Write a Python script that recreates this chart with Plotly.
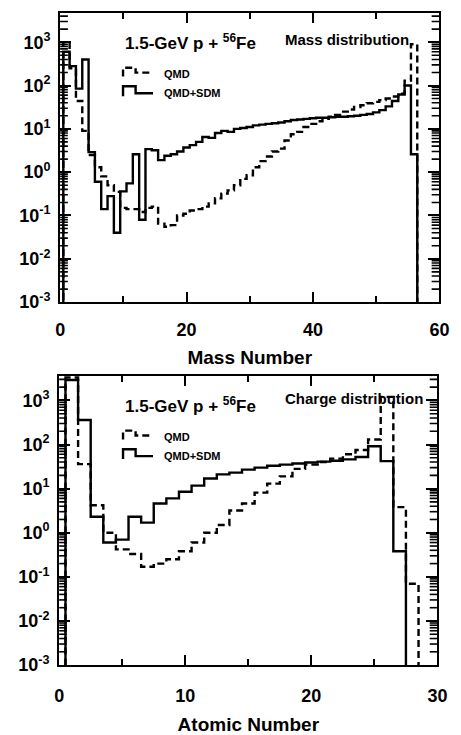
import plotly.graph_objects as go

# ---------------- data ----------------
mass_numbers = list(range(1, 57))
qmd_mass = [1000, 250, 44, 9, 2.5, 1.3, 0.8, 0.5, 0.35, 0.15,
            0.14, 0.14, 0.12, 0.15, 0.16, 0.065, 0.055, 0.06, 0.1, 0.11,
            0.13, 0.14, 0.16, 0.19, 0.25, 0.32, 0.38, 0.5, 0.7, 0.85,
            1.3, 1.8, 2.3, 3.0, 3.5, 5.4, 7.5, 8.5, 11, 13,
            15, 17, 19, 21, 25, 28, 32, 35, 39, 42,
            46, 50, 56, 65, 130, 900]
sdm_mass = [600, 280, 85, 400, 2.9, 0.6, 0.14, 0.28, 0.04, 0.36,
            0.55, 2.6, 0.08, 3.4, 3.2, 1.9, 2.4, 2.6, 3.0, 3.7,
            4.2, 5.0, 6.5, 6.2, 8.0, 9.0, 8.5, 10, 10.5, 11,
            12, 12.5, 13, 13.5, 14, 15, 16, 16.5, 17, 17.5,
            18, 18, 18.5, 19, 19, 19.5, 20, 21, 22, 24,
            27, 33, 44, 62, 100, 2.6]

atomic_numbers_qmd = list(range(1, 29))
qmd_charge = [3300, 36, 4.2, 1.0, 0.42, 0.33, 0.17, 0.2, 0.25, 0.38,
              0.6, 1.0, 1.5, 3.2, 4.6, 8.1, 13, 19, 28, 35,
              40, 48, 60, 75, 130, 1200, 3.8, 0.07]
atomic_numbers_sdm = list(range(1, 28))
sdm_charge = [2900, 360, 2.3, 0.6, 0.7, 2.3, 1.7, 4.6, 6, 8.5,
              11.7, 17, 21, 23, 27, 30, 33, 35, 37, 39,
              41, 43, 46, 52, 91, 42, 0.38]

decades = [-3, -2, -1, 0, 1, 2, 3]

# ---------------- helpers ----------------
W, H = 461, 735
FLOOR = 1e-6   # below the visible range: closes the histogram down to the axis


def step_xy(centers, values):
    xs, ys = [centers[0] - 0.5], [FLOOR]
    for c, v in zip(centers, values):
        xs.append(c - 0.5)
        ys.append(v)
    xs += [centers[-1] + 0.5, centers[-1] + 0.5]
    ys += [values[-1], FLOOR]
    return xs, ys


def px(x):
    return x / W


def py(y):
    return 1 - y / H


FONT = "Liberation Sans, Arial, Helvetica, sans-serif"
LINE_W = 2.4
DASH = "7px,4px"

fig = go.Figure()

panels = [
    dict(xa="x", ya="y", centers_q=mass_numbers, q=qmd_mass,
         centers_s=mass_numbers, s=sdm_mass, yrange=[-3, 3.68]),
    dict(xa="x2", ya="y2", centers_q=atomic_numbers_qmd, q=qmd_charge,
         centers_s=atomic_numbers_sdm, s=sdm_charge, yrange=[-3, 3.56]),
]

for p in panels:
    xs, ys = step_xy(p["centers_q"], p["q"])
    fig.add_trace(go.Scatter(x=xs, y=ys, mode="lines", line_shape="hv",
                             line=dict(color="black", width=LINE_W, dash=DASH),
                             xaxis=p["xa"], yaxis=p["ya"], showlegend=False,
                             hoverinfo="skip"))
    xs, ys = step_xy(p["centers_s"], p["s"])
    fig.add_trace(go.Scatter(x=xs, y=ys, mode="lines", line_shape="hv",
                             line=dict(color="black", width=LINE_W),
                             xaxis=p["xa"], yaxis=p["ya"], showlegend=False,
                             hoverinfo="skip"))

# ---------------- axes ----------------
ytick_vals = [10 ** d for d in decades]
ytick_text = ["10<sup>%d</sup>" % d for d in decades]
minor_vals = [m * 10 ** d for d in decades for m in range(2, 10)]

yaxis_common = dict(type="log", showgrid=False, zeroline=False,
                    showline=True, linecolor="black", linewidth=2, mirror="allticks",
                    ticks="inside", ticklen=11, tickwidth=2, tickcolor="black",
                    tickmode="array", tickvals=ytick_vals, ticktext=ytick_text,
                    tickfont=dict(family=FONT, size=18, color="black", weight="bold"),
                    ticklabelstandoff=4)

xaxis_common = dict(showgrid=False, zeroline=False, showline=True,
                    linecolor="black", linewidth=2, mirror="allticks",
                    ticks="inside", ticklen=10, tickwidth=2, tickcolor="black",
                    tickfont=dict(family=FONT, size=18, color="black", weight="bold"),
                    ticklabelstandoff=10,
                    minor=dict(ticks="inside", ticklen=6, tickwidth=1.5,
                               tickcolor="black", showgrid=False))

fig.update_layout(
    width=W, height=H, margin=dict(l=0, r=0, t=0, b=0),
    paper_bgcolor="white", plot_bgcolor="white",
    xaxis=dict(xaxis_common, domain=[px(57), px(449)], range=[0, 60],
               tick0=0, dtick=20, minor=dict(xaxis_common["minor"], dtick=10),
               anchor="y",
               title=dict(text="<b>Mass Number</b>", standoff=12,
                          font=dict(family=FONT, size=19, color="black"))),
    yaxis=dict(yaxis_common, domain=[py(308), py(13)], range=panels[0]["yrange"],
               anchor="x"),
    xaxis2=dict(xaxis_common, domain=[px(56), px(447)], range=[0, 30],
                tick0=0, dtick=10, minor=dict(xaxis_common["minor"], dtick=5),
                anchor="y2", ticklabelstandoff=13,
                title=dict(text="<b>Atomic Number</b>", standoff=16,
                           font=dict(family=FONT, size=19, color="black"))),
    yaxis2=dict(yaxis_common, domain=[py(678), py(383)], range=panels[1]["yrange"],
                anchor="x2"),
)

# log minor ticks (2..9 per decade) on both vertical edges of each panel
MINOR_LEN = 8 / 392
for p in panels:
    lo, hi = 10 ** p["yrange"][0], 10 ** p["yrange"][1]
    xdom = p["xa"] + " domain"
    for v in minor_vals:
        if not (lo < v < hi):
            continue
        for x0, x1 in [(0, MINOR_LEN), (1 - MINOR_LEN, 1)]:
            fig.add_shape(type="line", xref=xdom, yref=p["ya"],
                          x0=x0, x1=x1, y0=v, y1=v,
                          line=dict(color="black", width=1.6))


# ---------------- labels and legend keys ----------------
def label(x, y, text, size, anchor="left"):
    fig.add_annotation(x=px(x), y=py(y), xref="paper", yref="paper",
                       text=text, showarrow=False, xanchor=anchor, yanchor="middle",
                       font=dict(family=FONT, size=size, color="black"))


def key(x0, y_low, y_high, y_mid, dash):
    x1, x2 = x0 + 13, x0 + 31
    path = "M %f,%f L %f,%f L %f,%f L %f,%f L %f,%f" % (
        px(x0), py(y_low), px(x0), py(y_high), px(x1), py(y_high),
        px(x1), py(y_mid), px(x2), py(y_mid))
    fig.add_shape(type="path", path=path, xref="paper", yref="paper",
                  line=dict(color="black", width=LINE_W, dash=dash))


title_text = "<b>1.5-GeV p + <sup>56</sup>Fe</b>"
for top, kind in [(0, "Mass distribution"), (370, "Charge distribution")]:
    label(122, top + 43, title_text, 17)
    label(287, top + 40 if top == 0 else top + 36, "<b>%s</b>" % kind, 15)
    key(122, top + 78, top + 69, top + 74, DASH)
    key(122, top + 98, top + 88, top + 95, "solid")
    label(162, top + 75, "<b>QMD</b>", 11)
    label(162, top + 95, "<b>QMD+SDM</b>", 11)

fig.write_html("out.html")
